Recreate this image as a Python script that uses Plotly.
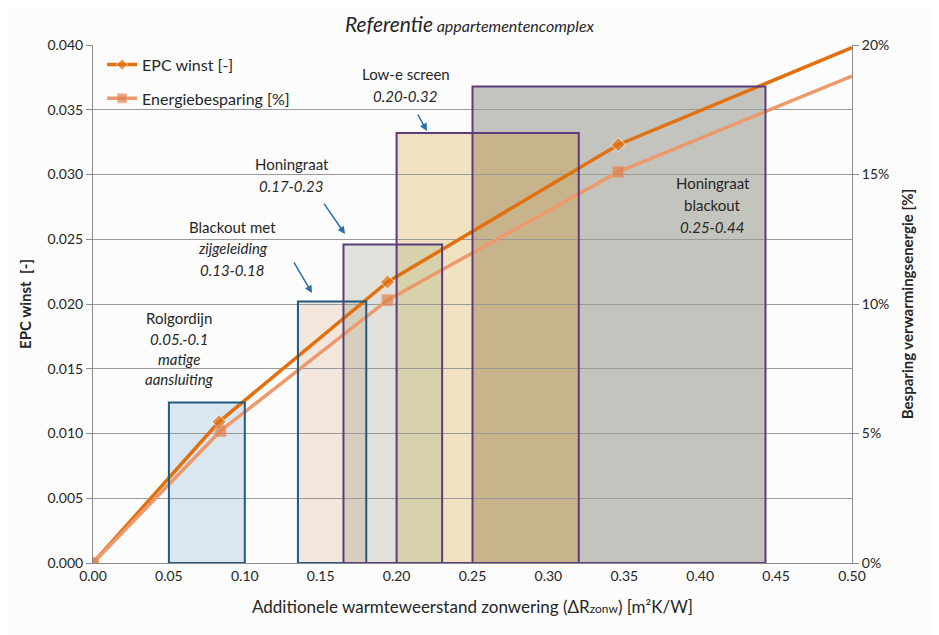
import plotly.graph_objects as go

# ---- data ----
epc_x = [0.0, 0.083, 0.194, 0.346, 0.5]
epc_y = [0.0, 0.0109, 0.0217, 0.0323, 0.0398]
ener_x = [0.0, 0.084, 0.194, 0.346, 0.5]
ener_y = [0.0, 0.051, 0.1015, 0.151, 0.188]

box_names = ["Rolgordijn", "Blackout met zijgeleiding", "Honingraat", "Low-e screen", "Honingraat blackout"]
box_x0 = [0.05, 0.135, 0.165, 0.20, 0.25]
box_x1 = [0.10, 0.18, 0.23, 0.32, 0.443]
box_top = [0.0124, 0.0202, 0.0246, 0.0332, 0.0368]

x_ticks = [0.0, 0.05, 0.10, 0.15, 0.20, 0.25, 0.30, 0.35, 0.40, 0.45, 0.50]

# ---- styles ----
box_fill = ["#dae6f0", "#f3e6dc", "#e1e1dc", "#f0e1c0", "#c4c4be"]
box_line = ["#1f5a82", "#1f5a82", "#5a3d7a", "#5a3d7a", "#5a3d7a"]
overlap_fill = {(1, 2): "#d6cebe", (2, 3): "#d8d2ac", (3, 4): "#c8b48c"}

FONT = "Lato"
TXT = "#262626"

# page body has an 8px margin; compensate so the plot area lands at x 93..852, y 45..563
OFF = 8
W, H = 939, 635
ML, MT = 93 - OFF, 45 - OFF
MR = (W + OFF) - 852
MB = (H + OFF) - 563

fig = go.Figure()

fig.add_trace(go.Scatter(
    x=epc_x, y=epc_y, name="EPC winst [-]", mode="lines+markers",
    line=dict(color="#e2700f", width=3.5),
    marker=dict(symbol="diamond", size=[11, 11, 11, 11, 0], color="#e2700f"),
    legendgroup="a", yaxis="y", cliponaxis=True,
))
fig.add_trace(go.Scatter(
    x=ener_x, y=ener_y, name="Energiebesparing [%]", mode="lines+markers",
    line=dict(color="#ec9a6c", width=3.5),
    marker=dict(symbol="square", size=[11, 11, 11, 11, 0], color="#e07f4c"),
    legendgroup="b", yaxis="y2", cliponaxis=True,
))

shapes = []
for i in range(len(box_names)):
    shapes.append(dict(type="rect", xref="x", yref="y", x0=box_x0[i], x1=box_x1[i],
                       y0=0, y1=box_top[i], fillcolor=box_fill[i],
                       line=dict(width=0), layer="below"))
for (a, b), col in overlap_fill.items():
    ox0 = max(box_x0[a], box_x0[b])
    ox1 = min(box_x1[a], box_x1[b])
    oy1 = min(box_top[a], box_top[b])
    if ox1 > ox0:
        shapes.append(dict(type="rect", xref="x", yref="y", x0=ox0, x1=ox1,
                           y0=0, y1=oy1, fillcolor=col, line=dict(width=0), layer="below"))
for i in range(len(box_names)):
    shapes.append(dict(type="rect", xref="x", yref="y", x0=box_x0[i], x1=box_x1[i],
                       y0=0, y1=box_top[i], fillcolor="rgba(0,0,0,0)",
                       line=dict(width=2, color=box_line[i]), layer="above"))

annotations = []

def label(x, y, text, italic=False, size=15):
    t = f"<i>{text}</i>" if italic else text
    annotations.append(dict(x=x, y=y, xref="x", yref="y", text=t, showarrow=False,
                            font=dict(family=FONT, size=size, color=TXT)))

label(0.206, 0.03776, "Low-e screen")
label(0.206, 0.03606, "0.20-0.32", True)
label(0.131, 0.03081, "Honingraat")
label(0.131, 0.02911, "0.17-0.23", True)
label(0.092, 0.02595, "Blackout met")
label(0.092, 0.02432, "zijgeleiding", True)
label(0.092, 0.02263, "0.13-0.18", True)
label(0.0567, 0.01892, "Rolgordijn")
label(0.0567, 0.0173, "0.05.-0.1", True)
label(0.0567, 0.01575, "matige", True)
label(0.0567, 0.01421, "aansluiting", True)
label(0.4084, 0.02934, "Honingraat")
label(0.4084, 0.02764, "blackout")
label(0.4084, 0.02595, "0.25-0.44", True)

for (tx, ty, ax, ay) in [(0.220, 0.03336, -10, -18), (0.166, 0.0254, -22, -32), (0.1443, 0.02085, -19, -32)]:
    annotations.append(dict(x=tx, y=ty, xref="x", yref="y", text="", showarrow=True,
                            ax=ax, ay=ay, arrowhead=2, arrowsize=1, arrowwidth=1.5,
                            arrowcolor="#2a6fa8"))

plot_w = W - ML - MR
plot_h = H - MT - MB
annotations.append(dict(
    x=(470 - OFF - ML) / plot_w, y=1 + (MT - 1) / plot_h,
    xref="paper", yref="paper", yanchor="top", xanchor="center", showarrow=False,
    text="<i><span style='font-size:21px'>Referentie</span> appartementencomplex</i>",
    font=dict(family=FONT, size=16, color=TXT)))

fig.update_layout(
    width=W, height=H,
    margin=dict(l=ML, r=MR, t=MT, b=MB, autoexpand=False),
    paper_bgcolor="#fcfcfc", plot_bgcolor="#fcfcfc",
    font=dict(family=FONT, size=14, color=TXT),
    shapes=shapes,
    annotations=annotations,
    showlegend=True,
    legend=dict(x=0.012, y=0.995, xanchor="left", yanchor="top", bgcolor="rgba(0,0,0,0)",
                font=dict(family=FONT, size=16, color=TXT), tracegroupgap=10,
                itemwidth=30),
    xaxis=dict(range=[0, 0.5], tickvals=x_ticks, tickformat=".2f", showgrid=False,
               showline=True, linecolor="#8c8c8c", linewidth=1, zeroline=False,
               ticks="", tickfont=dict(size=14, color=TXT), automargin=False,
               title=dict(text="Additionele warmteweerstand zonwering (ΔR<span style='font-size:12px'>zonw</span>) [m²K/W]",
                          font=dict(family=FONT, size=17, color=TXT), standoff=18)),
    yaxis=dict(range=[0, 0.04], dtick=0.005, tickformat=".3f", showgrid=True,
               gridcolor="#9a9a9a", gridwidth=1, showline=True, linecolor="#8c8c8c",
               zeroline=False, ticks="outside", ticklen=6, tickcolor="#8c8c8c",
               tickfont=dict(size=14, color=TXT), automargin=False,
               title=dict(text="<b>EPC winst  [-]</b>", font=dict(family=FONT, size=15, color=TXT), standoff=12)),
    yaxis2=dict(range=[0, 0.2], dtick=0.05, tickformat=".0%", overlaying="y", side="right",
                showgrid=False, showline=True, linecolor="#8c8c8c", zeroline=False,
                ticks="outside", ticklen=6, tickcolor="#8c8c8c",
                tickfont=dict(size=14, color=TXT), automargin=False,
                title=dict(text="<b>Besparing verwarmingsenergie [%]</b>",
                           font=dict(family=FONT, size=15, color=TXT), standoff=14)),
)

fig.write_html("out.html")
